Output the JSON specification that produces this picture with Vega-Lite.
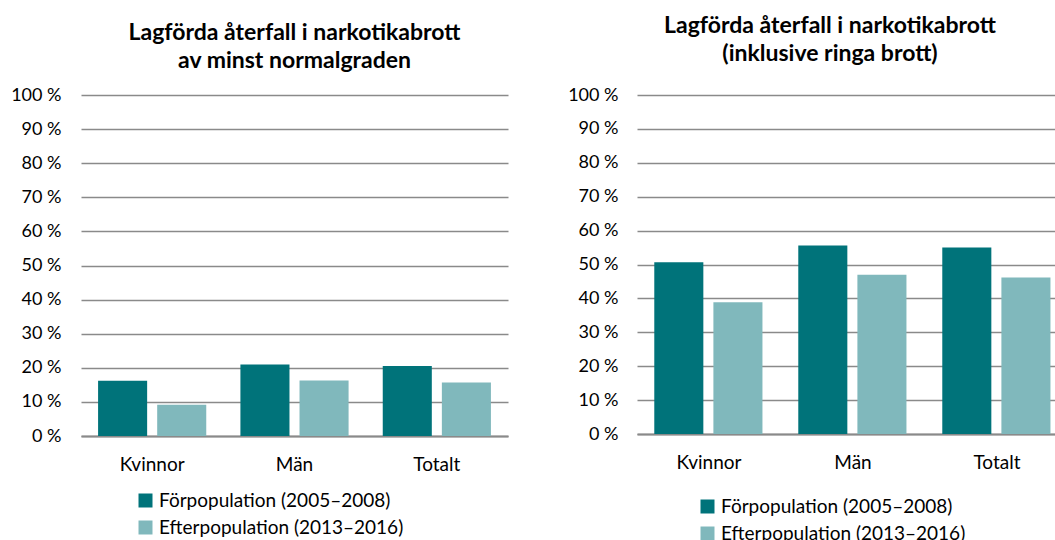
{
  "$schema": "https://vega.github.io/schema/vega-lite/v6.json",
  "background": "white",
  "padding": {"left": 10, "top": 15, "right": 0, "bottom": 0},
  "spacing": 59,
  "config": {
    "font": "Lato",
    "view": {"stroke": null},
    "title": {"fontSize": 23, "fontWeight": "bold", "color": "#000000", "lineHeight": 28, "offset": 13, "anchor": "middle"},
    "axis": {"labelFont": "Lato", "labelFontSize": 18, "labelColor": "#000000"},
    "legend": {"labelFont": "Lato", "labelFontSize": 19, "labelColor": "#000000", "labelLimit": 0, "symbolType": "square", "symbolSize": 196, "symbolStrokeWidth": 0, "rowPadding": 7, "labelOffset": 4, "padding": 0}
  },
  "resolve": {"scale": {"color": "independent"}, "legend": {"color": "independent"}},
  "datasets": {
    "vanster": [
      {"kategori": "Kvinnor", "grupp": "Förpopulation (2005–2008)", "varde": 16.2},
      {"kategori": "Kvinnor", "grupp": "Efterpopulation (2013–2016)", "varde": 9.2},
      {"kategori": "Män", "grupp": "Förpopulation (2005–2008)", "varde": 21.0},
      {"kategori": "Män", "grupp": "Efterpopulation (2013–2016)", "varde": 16.3},
      {"kategori": "Totalt", "grupp": "Förpopulation (2005–2008)", "varde": 20.5},
      {"kategori": "Totalt", "grupp": "Efterpopulation (2013–2016)", "varde": 15.7}
    ],
    "hoger": [
      {"kategori": "Kvinnor", "grupp": "Förpopulation (2005–2008)", "varde": 50.7},
      {"kategori": "Kvinnor", "grupp": "Efterpopulation (2013–2016)", "varde": 38.9},
      {"kategori": "Män", "grupp": "Förpopulation (2005–2008)", "varde": 55.6},
      {"kategori": "Män", "grupp": "Efterpopulation (2013–2016)", "varde": 47.0},
      {"kategori": "Totalt", "grupp": "Förpopulation (2005–2008)", "varde": 55.0},
      {"kategori": "Totalt", "grupp": "Efterpopulation (2013–2016)", "varde": 46.2}
    ]
  },
  "hconcat": [
    {
      "width": 427,
      "height": 341,
      "data": {"name": "vanster"},
      "title": {"text": ["Lagförda återfall i narkotikabrott", "av minst normalgraden"]},
      "mark": {"type": "bar"},
      "encoding": {
        "x": {
          "field": "kategori", "type": "nominal", "sort": ["Kvinnor", "Män", "Totalt"],
          "scale": {"paddingInner": 0.24, "paddingOuter": 0.12},
          "axis": {"title": null, "labelAngle": 0, "labelFontSize": 19, "ticks": false, "domainColor": "#8a8a8a", "domainWidth": 2, "labelPadding": 19}
        },
        "xOffset": {
          "field": "grupp", "type": "nominal",
          "sort": ["Förpopulation (2005–2008)", "Efterpopulation (2013–2016)"],
          "scale": {"paddingInner": 0.17}
        },
        "y": {
          "field": "varde", "type": "quantitative",
          "scale": {"domain": [0, 100]},
          "axis": {"title": null, "values": [0, 10, 20, 30, 40, 50, 60, 70, 80, 90, 100], "labelExpr": "datum.value + ' %'", "domain": false, "ticks": false, "gridColor": "#8a8a8a", "gridWidth": 1.5, "labelPadding": 20}
        },
        "color": {
          "field": "grupp", "type": "nominal",
          "scale": {"domain": ["Förpopulation (2005–2008)", "Efterpopulation (2013–2016)"], "range": ["#00737a", "#80b8bc"]},
          "legend": {"title": null, "orient": "none", "legendX": 55, "legendY": 396}
        }
      }
    },
    {
      "width": 432,
      "height": 339,
      "data": {"name": "hoger"},
      "title": {"text": ["Lagförda återfall i narkotikabrott", "(inklusive ringa brott)"], "dx": -23, "dy": -7},
      "mark": {"type": "bar"},
      "encoding": {
        "x": {
          "field": "kategori", "type": "nominal", "sort": ["Kvinnor", "Män", "Totalt"],
          "scale": {"paddingInner": 0.24, "paddingOuter": 0.12},
          "axis": {"title": null, "labelAngle": 0, "labelFontSize": 19, "ticks": false, "domainColor": "#8a8a8a", "domainWidth": 2, "labelPadding": 19}
        },
        "xOffset": {
          "field": "grupp", "type": "nominal",
          "sort": ["Förpopulation (2005–2008)", "Efterpopulation (2013–2016)"],
          "scale": {"paddingInner": 0.17}
        },
        "y": {
          "field": "varde", "type": "quantitative",
          "scale": {"domain": [0, 100]},
          "axis": {"title": null, "values": [0, 10, 20, 30, 40, 50, 60, 70, 80, 90, 100], "labelExpr": "datum.value + ' %'", "domain": false, "ticks": false, "gridColor": "#8a8a8a", "gridWidth": 1.5, "labelPadding": 19}
        },
        "color": {
          "field": "grupp", "type": "nominal",
          "scale": {"domain": ["Förpopulation (2005–2008)", "Efterpopulation (2013–2016)"], "range": ["#00737a", "#80b8bc"]},
          "legend": {"title": null, "orient": "none", "legendX": 61, "legendY": 402}
        }
      }
    }
  ]
}
